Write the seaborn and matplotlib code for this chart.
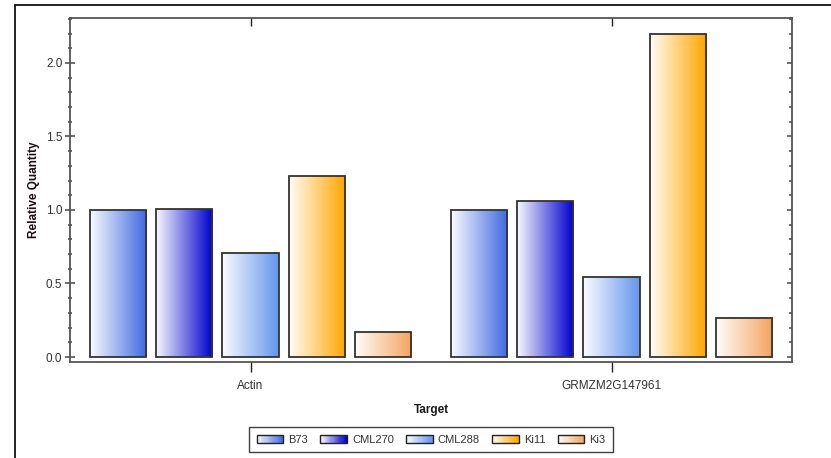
import numpy as np
import pandas as pd
import matplotlib
matplotlib.use("Agg")
import matplotlib.pyplot as plt
import seaborn as sns
from matplotlib.patches import Rectangle
from matplotlib.legend_handler import HandlerBase
from matplotlib.lines import Line2D
from matplotlib.ticker import MultipleLocator
from matplotlib.colors import to_rgb

targets = ["Actin", "GRMZM2G147961"]
lines = ["B73", "CML270", "CML288", "Ki11", "Ki3"]
actin_values = [1.00, 1.01, 0.707, 1.233, 0.172]
grmzm_values = [1.00, 1.061, 0.546, 2.197, 0.263]
colors = ["#4169e1", "#0000cd", "#6495ed", "#ffa500", "#f4a460"]

df = pd.DataFrame({
    "Target": [t for t in targets for _ in lines],
    "Line": lines * len(targets),
    "Relative Quantity": actin_values + grmzm_values,
})

sns.set_theme(style="white")
plt.rcParams["font.family"] = ["Liberation Sans Narrow", "Liberation Sans", "DejaVu Sans"]

fig = plt.figure(figsize=(8.31, 4.58), dpi=100)
W, H = 831, 458
ax = fig.add_axes([70 / W, 1 - 362 / H, (792 - 70) / W, (362 - 18) / H])

sns.barplot(data=df, x="Target", y="Relative Quantity", hue="Line",
            order=targets, hue_order=lines, palette=colors,
            width=0.917, gap=0.154, ax=ax, legend=False,
            edgecolor="#333333", linewidth=1.3)

ax.set_xlim(-0.5, 1.5)
ax.set_ylim(-0.034, 2.306)


def gradient(c, n=64):
    c = np.array(to_rgb(c))
    t = np.linspace(0, 1, n)[:, None]
    start = np.array([1.0, 1.0, 1.0]) * 0.97 + 0.03 * c
    return start * (1 - t) + c * t


for i, cont in enumerate(ax.containers):
    grad = gradient(colors[i])[None, :, :]
    for p in cont.patches:
        x, y = p.get_x(), p.get_y()
        w, h = p.get_width(), p.get_height()
        p.set_facecolor("none")
        p.set_zorder(3)
        im = ax.imshow(grad, extent=[x, x + w, y, y + h], aspect="auto",
                       zorder=2, interpolation="bilinear")
        im.set_clip_path(p)

ax.set_xlim(-0.5, 1.5)
ax.set_ylim(-0.034, 2.306)

spine_c = "#555555"
for s in ax.spines.values():
    s.set_visible(True)
    s.set_color(spine_c)
    s.set_linewidth(1.3)

ax.yaxis.set_major_locator(MultipleLocator(0.5))
ax.yaxis.set_minor_locator(MultipleLocator(0.1))
ax.set_yticks([0, 0.5, 1.0, 1.5, 2.0])
ax.set_yticklabels(["0.0", "0.5", "1.0", "1.5", "2.0"])
ax.tick_params(axis="y", which="major", direction="inout", length=7, width=1.2,
               color=spine_c, labelsize=8.5, labelcolor="#333333", pad=2, left=True)
ax.tick_params(axis="y", which="minor", direction="inout", length=3.5, width=1.2,
               color=spine_c, left=True)
ax.tick_params(axis="x", which="major", direction="out", length=7, width=1.0,
               color="#222222", labelsize=8.5, labelcolor="#333333", pad=6, bottom=True)

sec_x = ax.secondary_xaxis("top")
sec_x.set_xticks([0, 1])
sec_x.tick_params(direction="in", length=6, width=1.0, color="#222222", labeltop=False)
for s in sec_x.spines.values():
    s.set_visible(False)

sec_y = ax.secondary_yaxis("right")
sec_y.yaxis.set_major_locator(MultipleLocator(0.5))
sec_y.yaxis.set_minor_locator(MultipleLocator(0.1))
sec_y.tick_params(which="major", direction="in", length=3.5, width=1.2, color=spine_c, labelright=False)
sec_y.tick_params(which="minor", direction="in", length=2, width=1.2, color=spine_c, labelright=False)
for s in sec_y.spines.values():
    s.set_visible(False)

ax.set_xlabel("Target", fontsize=8.5, fontweight="bold", color="#1a1a1a",
              family=["Liberation Sans", "DejaVu Sans"])
ax.set_ylabel("Relative Quantity", fontsize=8.5, fontweight="bold", color="#1a1010",
              family=["Liberation Sans", "DejaVu Sans"])
ax.xaxis.set_label_coords(0.5, -(404 - 362) / (362 - 18))
ax.yaxis.set_label_coords(-(70 - 40) / (792 - 70), 0.5)


class GradHandler(HandlerBase):
    def __init__(self, color):
        super().__init__()
        self.color = color

    def create_artists(self, legend, orig_handle, xdescent, ydescent, width, height, fontsize, trans):
        n = 24
        g = gradient(self.color, n)
        arts = []
        x0, y0 = -xdescent, -ydescent + height * 0.1
        hh = height * 0.8
        for k in range(n):
            r = Rectangle((x0 + k * width / n, y0), width / n + 0.3, hh,
                          facecolor=g[k], edgecolor="none", transform=trans)
            arts.append(r)
        arts.append(Rectangle((x0, y0), width, hh, facecolor="none",
                              edgecolor="#222222", linewidth=1.0, transform=trans))
        return arts


handles = [Rectangle((0, 0), 1, 1, label=l) for l in lines]
handler_map = {h: GradHandler(c) for h, c in zip(handles, colors)}
leg = fig.legend(handles=handles, labels=lines, handler_map=handler_map, ncol=5,
                 loc="center", bbox_to_anchor=((252 + 610) / 2 / W, 1 - 439.5 / H),
                 frameon=True, fancybox=False, edgecolor="#111111", fontsize=8,
                 handlelength=2.4, handleheight=0.9, handletextpad=0.45, columnspacing=1.1,
                 borderpad=0.65, borderaxespad=0, labelcolor="#333333")
leg.get_frame().set_linewidth(1.0)

fig.add_artist(Line2D([15 / W, 1.0], [1 - 5 / H, 1 - 5 / H], color="#111111", lw=1.3,
                      transform=fig.transFigure))
fig.add_artist(Line2D([15 / W, 15 / W], [1 - 5 / H, 0.0], color="#111111", lw=1.3,
                      transform=fig.transFigure))

fig.savefig("out.png", dpi=100, facecolor="white")
